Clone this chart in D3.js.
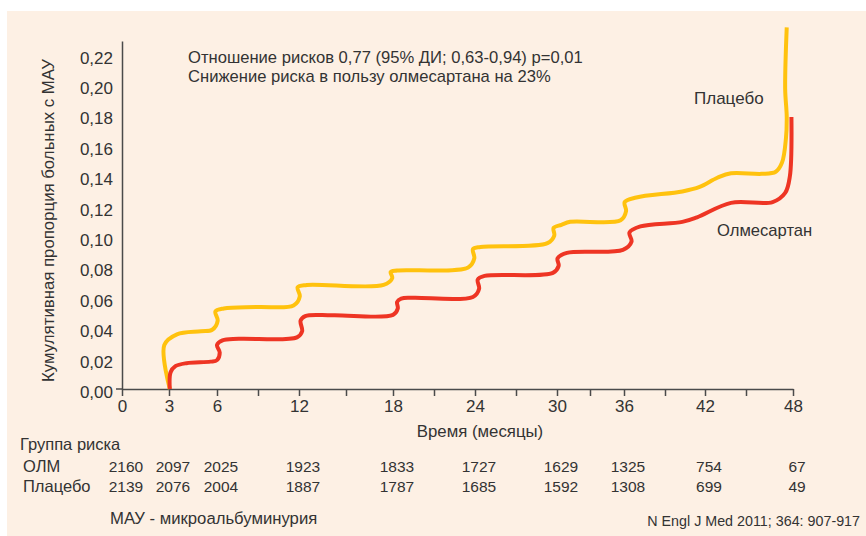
<!DOCTYPE html>
<html>
<head>
<meta charset="utf-8">
<script src="https://cdn.jsdelivr.net/npm/d3@7"></script>
<style>
  body { margin: 0; background: #fff; }
  text { font-family: "Liberation Sans", Arial, sans-serif; fill: #333; }
</style>
</head>
<body>
<div id="chart"></div>
<script>
'use strict';

// ---- data ----
var axisMonths = [0, 3, 6, 9, 12, 15, 18, 21, 24, 27, 30, 33, 36, 39, 42, 45, 48];
var labelMonths = [0, 3, 6, 12, 18, 24, 30, 36, 42, 48];
var yTicks = [0, 0.02, 0.04, 0.06, 0.08, 0.10, 0.12, 0.14, 0.16, 0.18, 0.20, 0.22];

var riskOlm = [2160, 2097, 2025, 1923, 1833, 1727, 1629, 1325, 754, 67];
var riskPlacebo = [2139, 2076, 2004, 1887, 1787, 1685, 1592, 1308, 699, 49];

// [месяц, доля]
var placebo = [
    [3.05, 0.000], [2.7, 0.029], [3.5, 0.036], [5.0, 0.038], [5.7, 0.039],
    [6.05, 0.045], [5.9, 0.051], [6.5, 0.053], [9.0, 0.054], [11.6, 0.055],
    [12.05, 0.061], [11.9, 0.067], [12.5, 0.0685], [17.4, 0.0685],
    [17.95, 0.073], [17.85, 0.077], [18.3, 0.078], [23.5, 0.080],
    [23.95, 0.086], [23.85, 0.092], [24.4, 0.0935], [29.3, 0.096],
    [29.8, 0.101], [29.75, 0.106], [30.4, 0.108], [31.2, 0.110], [35.7, 0.111],
    [36.15, 0.117], [36.05, 0.123], [36.9, 0.126], [40.3, 0.130], [41.6, 0.133],
    [42.9, 0.139], [43.9, 0.142], [46.0, 0.1416], [46.9, 0.143], [47.3, 0.149],
    [47.55, 0.165], [47.6, 0.179], [47.5, 0.1976], [47.6, 0.238]
];

var olmesartan = [
    [3.05, 0.000], [3.1, 0.011], [3.4, 0.015], [4.1, 0.017], [5.6, 0.018],
    [6.0, 0.019], [6.2, 0.024], [6.0, 0.029], [6.4, 0.032], [7.6, 0.033],
    [11.85, 0.034], [12.2, 0.038], [12.1, 0.045], [12.4, 0.048], [14.2, 0.0485],
    [18.0, 0.0488], [18.35, 0.053], [18.3, 0.0573], [18.6, 0.0595], [19.5, 0.060],
    [23.85, 0.0606], [24.3, 0.066], [24.2, 0.072], [24.7, 0.0744], [29.7, 0.0764],
    [30.15, 0.081], [30.05, 0.086], [30.9, 0.0896], [35.9, 0.0916],
    [36.55, 0.097], [36.4, 0.103], [37.2, 0.107], [40.3, 0.110], [41.4, 0.113],
    [43.9, 0.1225], [46.7, 0.123], [47.5, 0.129], [47.8, 0.140], [47.9, 0.179]
];

// ---- layout ----
var width = 866, height = 536;
// the original axis is drawn by hand, tick spacing is uneven
var axisPx = [122, 169, 217, 258, 299, 346, 393, 434, 475, 516, 557, 590, 624, 665, 705, 746, 793];

var svg = d3.select("#chart").append("svg")
    .attr("width", width)
    .attr("height", height);

// фон
svg.append("rect")
    .attr("x", 7).attr("y", 11)
    .attr("width", width - 7).attr("height", height - 11)
    .attr("fill", "#fdf0e4");

var x = d3.scaleLinear().domain(axisMonths).range(axisPx);
var y = d3.scaleLinear().domain([0, 0.229]).range([389, 41]);

var comma = function (v) { return d3.format(".2f")(v).replace(".", ","); };

// y axis
var yAxis = svg.append("g")
    .attr("transform", "translate(" + x(0) + ",0)")
    .call(d3.axisLeft(y).tickValues(yTicks).tickSize(0).tickPadding(9).tickFormat(comma));
yAxis.select(".domain").attr("stroke", "#4a4a4a").attr("stroke-width", 1.5);
yAxis.selectAll("text")
    .attr("dy", "0.5em")
    .style("font-size", "17px")
    .style("font-family", "Liberation Sans, Arial, sans-serif")
    .attr("fill", "#333");

// x axis
var xAxis = svg.append("g")
    .attr("transform", "translate(0," + y(0) + ")")
    .call(d3.axisBottom(x).tickValues(axisMonths).tickSize(7).tickSizeOuter(0).tickPadding(4)
        .tickFormat(function (d) { return labelMonths.indexOf(d) >= 0 ? d : ""; }));
xAxis.select(".domain").attr("stroke", "#4a4a4a").attr("stroke-width", 1.5);
xAxis.selectAll(".tick line").attr("stroke", "#4a4a4a").attr("stroke-width", 1.5);
xAxis.selectAll("text")
    .style("font-size", "17px")
    .style("font-family", "Liberation Sans, Arial, sans-serif")
    .attr("fill", "#333");

// short stub left of the origin
svg.append("line")
    .attr("x1", x(0) - 6).attr("x2", x(0))
    .attr("y1", y(0)).attr("y2", y(0))
    .attr("stroke", "#4a4a4a").attr("stroke-width", 1.5);

// axis titles
svg.append("text")
    .attr("transform", "translate(54," + ((y(0) + 48) / 2 + 2) + ") rotate(-90)")
    .attr("text-anchor", "middle")
    .style("font-size", "16.8px")
    .text("Кумулятивная пропорция больных с МАУ");

svg.append("text")
    .attr("x", 480).attr("y", 437)
    .attr("text-anchor", "middle")
    .style("font-size", "16.8px")
    .text("Время (месяцы)");

// curves
var line = d3.line()
    .x(function (d) { return x(d[0]); })
    .y(function (d) { return y(d[1]); })
    .curve(d3.curveCatmullRom.alpha(0.5));

svg.append("path")
    .datum(placebo)
    .attr("d", line)
    .attr("fill", "none")
    .attr("stroke", "#ffc20e")
    .attr("stroke-width", 4)
    .attr("stroke-linejoin", "round");

svg.append("path")
    .datum(olmesartan)
    .attr("d", line)
    .attr("fill", "none")
    .attr("stroke", "#ee3524")
    .attr("stroke-width", 4)
    .attr("stroke-linejoin", "round");

// annotations
svg.append("text")
    .attr("x", 188).attr("y", 63)
    .style("font-size", "16.6px")
    .text("Отношение рисков 0,77 (95% ДИ; 0,63-0,94) p=0,01");
svg.append("text")
    .attr("x", 188).attr("y", 82)
    .style("font-size", "16.6px")
    .text("Снижение риска в пользу олмесартана на 23%");

svg.append("text")
    .attr("x", 694).attr("y", 104)
    .style("font-size", "17px")
    .text("Плацебо");
svg.append("text")
    .attr("x", 717).attr("y", 236)
    .style("font-size", "16.6px")
    .text("Олмесартан");

// risk table
svg.append("text")
    .attr("x", 20).attr("y", 450)
    .style("font-size", "16.5px")
    .text("Группа риска");

var rows = [["ОЛМ", riskOlm, 472], ["Плацебо", riskPlacebo, 492]];
rows.forEach(function (r) {
    svg.append("text")
        .attr("x", 23).attr("y", r[2])
        .style("font-size", "16.5px")
        .text(r[0]);
    svg.append("g").selectAll("text")
        .data(r[1])
        .enter().append("text")
        .attr("x", function (d, i) { return x(labelMonths[i]); })
        .attr("dx", 4)
        .attr("y", r[2])
        .attr("text-anchor", "middle")
        .style("font-size", "15.5px")
        .text(function (d) { return d; });
});

// footnotes
svg.append("text")
    .attr("x", 110).attr("y", 524)
    .style("font-size", "16.7px")
    .text("МАУ - микроальбуминурия");
svg.append("text")
    .attr("x", 860).attr("y", 526)
    .attr("text-anchor", "end")
    .style("font-size", "14.3px")
    .text("N Engl J Med 2011; 364: 907-917");
</script>
</body>
</html>
